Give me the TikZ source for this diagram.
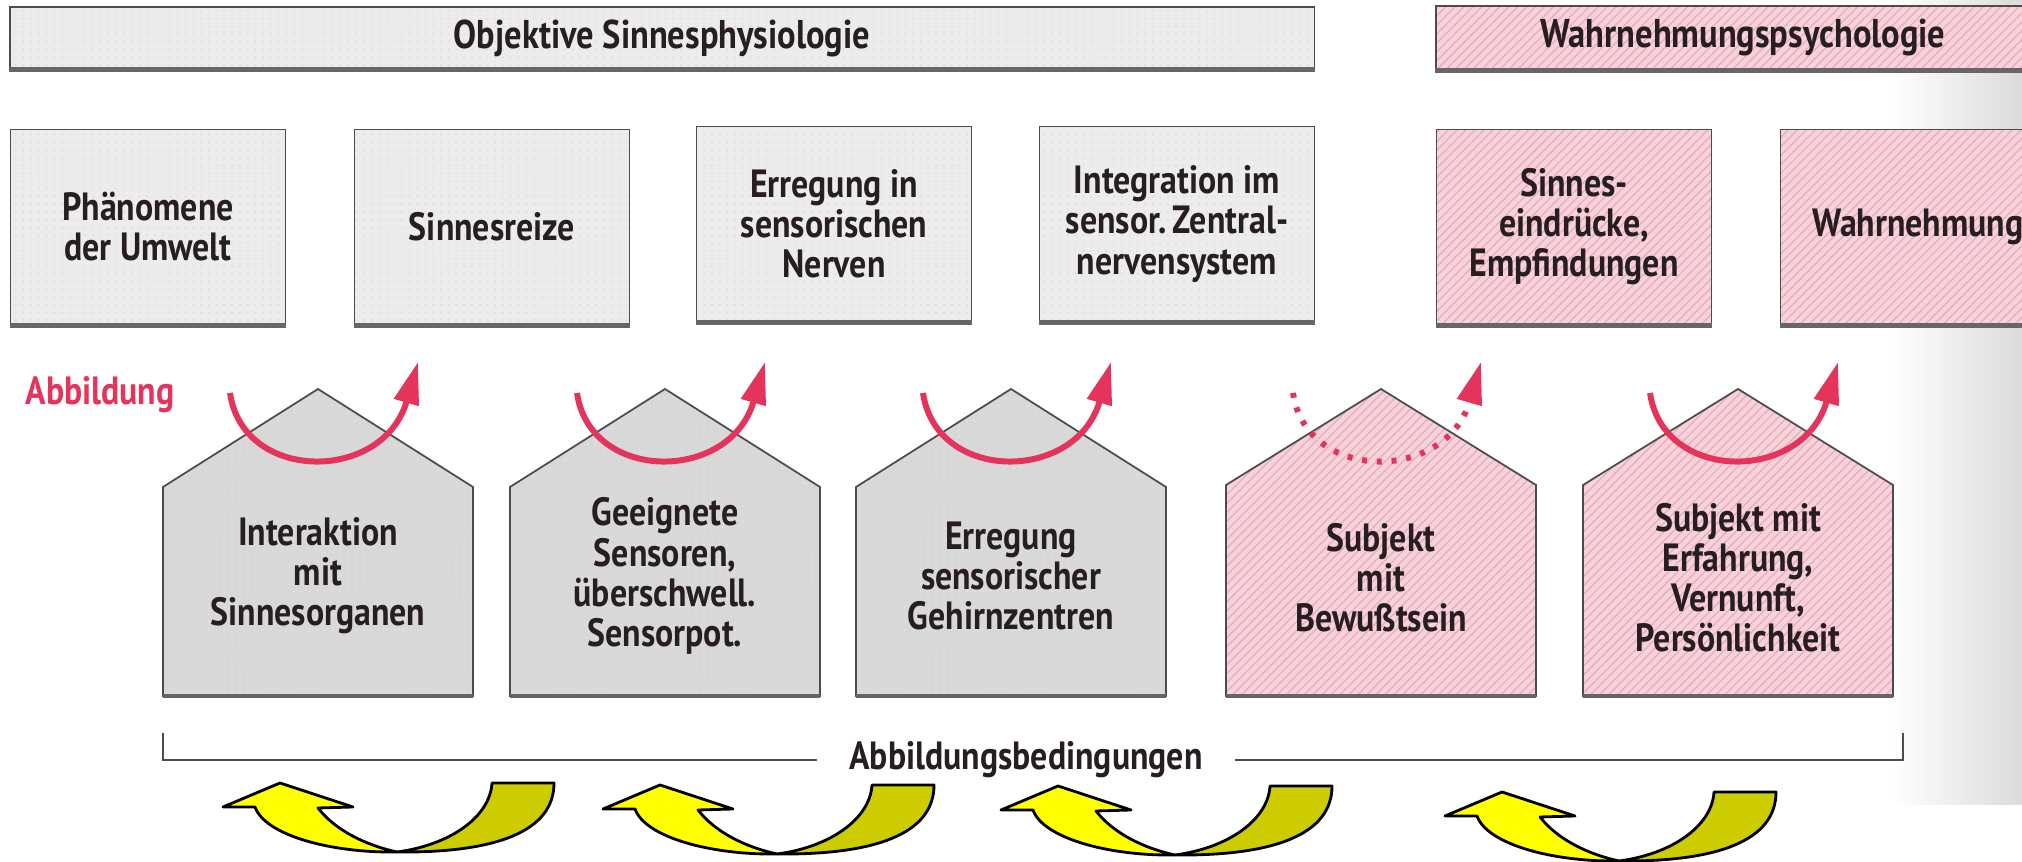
\documentclass[tikz,border=0pt]{standalone}
\usepackage{fontspec}
\newfontfamily\labelfont{PT Sans}[FakeStretch=0.86]
\usetikzlibrary{arrows.meta,patterns.meta}

\definecolor{boxgray}{RGB}{236,236,236}
\definecolor{housegray}{RGB}{216,216,216}
\definecolor{rosa}{RGB}{247,210,218}
\definecolor{rosaline}{RGB}{230,172,186}
\definecolor{abbred}{RGB}{228,52,92}
\definecolor{arrowyellow}{RGB}{255,255,0}
\definecolor{arrowolive}{RGB}{204,204,0}
\definecolor{inktext}{RGB}{38,30,34}

\tikzset{
  lbl/.style={font=\labelfont\bfseries\fontsize{11.2}{11.4}\selectfont, text=inktext, align=center},
  barlbl/.style={font=\labelfont\bfseries\fontsize{11.4}{12}\selectfont, text=inktext},
  grayfill/.style={preaction={fill=#1}, preaction={pattern={Dots[distance=2.2pt,radius=0.35pt]}, pattern color=black!12}},
  pinkfill/.style={preaction={fill=rosa}, preaction={pattern={Lines[angle=45,distance=1.8pt,line width=0.35pt]}, pattern color=rosaline}},
  graybox/.style={lbl, draw=black!70, line width=0.5pt, grayfill=boxgray, minimum width=2.75cm, minimum height=1.95cm},
  pinkbox/.style={lbl, draw=black!70, line width=0.5pt, pinkfill, minimum width=2.75cm, minimum height=1.95cm},
  grayhouse/.style={draw=black!70, line width=0.5pt, grayfill=housegray},
  pinkhouse/.style={draw=black!70, line width=0.5pt, pinkfill},
  shadowline/.style={line width=1.4pt, black!60},
  abbarrow/.style={abbred, line width=1.7pt, -{Triangle[length=12pt,width=7pt]}},
  bracket/.style={black!70, line width=0.8pt},
  yellowpart/.style={draw=black, line width=0.8pt, fill=arrowyellow, line join=round},
  olivepart/.style={draw=black, line width=0.8pt, fill=arrowolive, line join=round}
}

\begin{document}
\begin{tikzpicture}[x=0.01cm, y=-0.01cm]
\useasboundingbox (0,0) rectangle (2022,862);

% page edge on the right
\shade[left color=white, right color=black!14] (1890,0) rectangle (2022,805);

% headings
\node[graybox, minimum width=13.04cm, minimum height=0.62cm, barlbl] (objektiv) at (662,38) {Objektive Sinnesphysiologie};
\node[pinkbox, minimum width=6.14cm, minimum height=0.64cm, barlbl] (wahrpsy) at (1743,38) {Wahrnehmungspsychologie};

% upper row
\node[graybox] (b1) at (148,227) {Phänomene\\der Umwelt};
\node[graybox] (b2) at (492,227) {Sinnesreize};
\node[graybox] (b3) at (834,224) {Erregung in\\sensorischen\\Nerven};
\node[graybox] (b4) at (1177,224) {Integration im\\sensor.\,Zentral-\\nervensystem};
\node[pinkbox] (b5) at (1574,227) {Sinnes-\\eindrücke,\\Empfindungen};
\node[pinkbox] (b6) at (1918,227) {Wahrnehmung};
\foreach \b in {objektiv,wahrpsy,b1,b2,b3,b4,b5,b6}
  \draw[shadowline] (\b.south west) -- (\b.south east);

\node[lbl, text=abbred] (abb) at (100,395) {Abbildung};

% houses
\foreach \i/\cx/\txt in {1/318/{Interaktion\\mit\\Sinnesorganen},
                        2/665/{Geeignete\\Sensoren,\\überschwell.\\Sensorpot.},
                        3/1011/{Erregung\\sensorischer\\Gehirnzentren}} {
  \draw[grayhouse] (\cx-155,696) -- (\cx-155,487) -- (\cx,389) -- (\cx+155,487) -- (\cx+155,696) -- cycle;
  \draw[shadowline] (\cx-155,696) -- (\cx+155,696);
  \node[lbl] (h\i) at (\cx,576) {\txt};
}
\foreach \i/\cx/\txt in {4/1381/{Subjekt\\mit\\Bewußtsein},
                        5/1738/{Subjekt mit\\Erfahrung,\\Vernunft,\\Persönlichkeit}} {
  \draw[pinkhouse] (\cx-155,696) -- (\cx-155,485) -- (\cx,389) -- (\cx+155,485) -- (\cx+155,696) -- cycle;
  \draw[shadowline] (\cx-155,696) -- (\cx+155,696);
  \node[lbl] (h\i) at (\cx,578) {\txt};
}

% Abbildung arrows over the roofs
\foreach \i/\cx in {1/318,2/665,3/1011,4/1381,5/1738} {
  \coordinate (s\i) at (\cx-88,393);
  \coordinate (t\i) at (\cx+100,362);
}
\foreach \i/\cx in {1/318,2/665,3/1011,5/1738}
  \draw[abbarrow] (s\i) .. controls (\cx-75,483) and (\cx+65,483) .. (t\i);
\draw[abbarrow, dash pattern=on 1.4pt off 2.8pt] (s4) .. controls (1306,483) and (1446,483) .. (t4);

% Abbildungsbedingungen
\node[lbl, inner xsep=9pt] (bed) at (1026,760) {Abbildungsbedingungen};
\coordinate (bl) at (163,733);
\coordinate (br) at (1903,733);
\draw[bracket] (bl) |- (bed.west);
\draw[bracket] (br) |- (bed.east);

% yellow turn arrows
\foreach \dx/\dy in {0/0,380/2,778/3,1222/9} {
  \begin{scope}[shift={(\dx,\dy)}]
    \draw[olivepart] (492,783) -- (554,783) .. controls (554,832) and (495,853) .. (397,852)
      .. controls (450,845) and (490,817) .. cycle;
    \draw[yellowpart] (397,852) .. controls (330,853) and (265,835) .. (255,807) -- (223,807)
      -- (280,783) -- (353,807) -- (318,808) .. controls (335,830) and (365,845) .. cycle;
  \end{scope}
}
\end{tikzpicture}
\end{document}
